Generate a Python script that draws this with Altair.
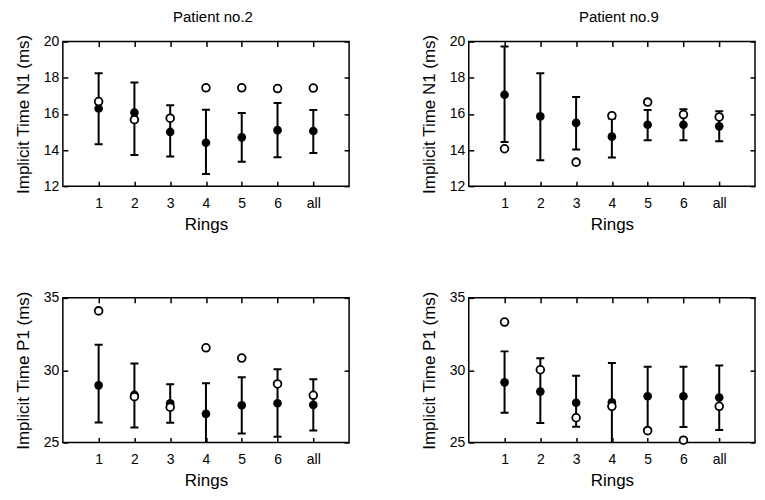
import altair as alt
import pandas as pd

rings = ["1", "2", "3", "4", "5", "6", "all"]

# Patient no.2, N1
p2_n1_mean = [16.30, 16.07, 15.00, 14.40, 14.70, 15.10, 15.05]
p2_n1_lo = [14.32, 13.72, 13.64, 12.67, 13.35, 13.60, 13.83]
p2_n1_hi = [18.24, 17.74, 16.47, 16.23, 16.05, 16.60, 16.21]
p2_n1_open = [16.68, 15.68, 15.76, 17.44, 17.44, 17.40, 17.43]

# Patient no.9, N1
p9_n1_mean = [17.06, 15.86, 15.50, 14.74, 15.40, 15.40, 15.31]
p9_n1_lo = [14.45, 13.44, 14.03, 13.58, 14.54, 14.54, 14.49]
p9_n1_hi = [19.72, 18.24, 16.93, 15.75, 16.21, 16.25, 16.14]
p9_n1_open = [14.07, None, 13.33, 15.90, 16.65, 15.96, 15.83]

# Patient no.2, P1
p2_p1_mean = [28.95, 28.30, 27.71, 26.98, 27.57, 27.71, 27.60]
p2_p1_lo = [26.38, 26.03, 26.36, 24.50, 25.62, 25.39, 25.83]
p2_p1_hi = [31.76, 30.47, 29.02, 29.09, 29.51, 30.06, 29.37]
p2_p1_open = [34.10, 28.17, 27.44, 31.55, 30.84, 29.05, 28.26]

# Patient no.9, P1
p9_p1_mean = [29.16, 28.52, 27.75, 27.78, 28.20, 28.20, 28.11]
p9_p1_lo = [27.06, 26.35, 26.08, 24.50, 25.95, 26.07, 25.87]
p9_p1_hi = [31.30, 30.83, 29.62, 30.49, 30.24, 30.24, 30.33]
p9_p1_open = [33.33, 30.03, 26.71, 27.50, 25.82, 25.16, 27.50]

n1_domain = [12, 20]
n1_ticks = [12, 14, 16, 18, 20]
p1_domain = [25, 35]
p1_ticks = [25, 30, 35]

FONT = "Liberation Sans"
W, H = 287, 145
TS = 5


def panel(mean, lo, hi, opn, domain, ticks, ytitle, title=None):
    df = pd.DataFrame({"ring": rings, "mean": mean, "lo": lo, "hi": hi, "open": opn})
    xs = alt.Scale(type="point", padding=1, domain=rings)
    ys = alt.Scale(domain=domain, nice=False, zero=False)
    base = alt.Chart(df)

    ax_bottom = alt.Axis(orient="bottom", offset=-TS, tickSize=TS, labelPadding=10,
                         title="Rings", titlePadding=6, labelAngle=0)
    ax_top = alt.Axis(orient="top", offset=-TS, tickSize=TS, labels=False, title=None)
    ax_left = alt.Axis(orient="left", offset=-TS, tickSize=TS, labelPadding=4,
                       values=ticks, title=ytitle, titlePadding=11)
    ax_right = alt.Axis(orient="right", offset=-TS, tickSize=TS, labels=False,
                        values=ticks, title=None)

    bars = base.mark_rule(color="black", strokeWidth=2, clip=True).encode(
        x=alt.X("ring:O", scale=xs, axis=ax_bottom, sort=rings),
        y=alt.Y("lo:Q", scale=ys, axis=ax_left),
        y2="hi:Q",
    )
    cap_lo = base.mark_tick(color="black", thickness=2, size=8, clip=True, opacity=1).encode(
        x=alt.X("ring:O", scale=xs, axis=ax_top, sort=rings),
        y=alt.Y("lo:Q", scale=ys, axis=ax_right),
    )
    cap_hi = base.mark_tick(color="black", thickness=2, size=8, clip=True, opacity=1).encode(
        x=alt.X("ring:O", scale=xs, axis=None, sort=rings),
        y=alt.Y("hi:Q", scale=ys, axis=None),
    )
    filled = base.mark_point(filled=True, color="black", size=75, opacity=1).encode(
        x=alt.X("ring:O", scale=xs, axis=None, sort=rings),
        y=alt.Y("mean:Q", scale=ys, axis=None),
    )
    opened = base.transform_filter("isValid(datum.open)").mark_point(
        filled=True, fill="white", stroke="black", strokeWidth=1.8, size=60, opacity=1
    ).encode(
        x=alt.X("ring:O", scale=xs, axis=None, sort=rings),
        y=alt.Y("open:Q", scale=ys, axis=None),
    )
    ch = alt.layer(bars, cap_lo, cap_hi, filled, opened)
    if title:
        ch = ch.properties(title=alt.Title(title, fontSize=15, fontWeight="normal", font=FONT,
                                           anchor="middle", offset=9, dx=7, color="black"))
    return ch.properties(width=W, height=H)


ytn1 = "Implicit Time N1 (ms)"
ytp1 = "Implicit Time P1 (ms)"

c1 = panel(p2_n1_mean, p2_n1_lo, p2_n1_hi, p2_n1_open, n1_domain, n1_ticks, ytn1, "Patient no.2")
c2 = panel(p9_n1_mean, p9_n1_lo, p9_n1_hi, p9_n1_open, n1_domain, n1_ticks, ytn1, "Patient no.9")
c3 = panel(p2_p1_mean, p2_p1_lo, p2_p1_hi, p2_p1_open, p1_domain, p1_ticks, ytp1)
c4 = panel(p9_p1_mean, p9_p1_lo, p9_p1_hi, p9_p1_open, p1_domain, p1_ticks, ytp1)

top = alt.hconcat(c1, c2, spacing=68)
bottom = alt.hconcat(c3, c4, spacing=68)

chart = alt.vconcat(top, bottom, spacing=57).properties(
    padding={"left": 5, "top": 0, "right": 0, "bottom": 0},
    background="white",
).configure_view(
    stroke="black", strokeWidth=1.5
).configure_axis(
    domain=False, grid=False, tickColor="black", tickWidth=1.5,
    labelColor="black", titleColor="black", labelFont=FONT, titleFont=FONT,
    labelFontSize=14, titleFontSize=17, titleFontWeight="normal",
)

chart.save("out.html", embed_options={"renderer": "svg", "actions": False})
